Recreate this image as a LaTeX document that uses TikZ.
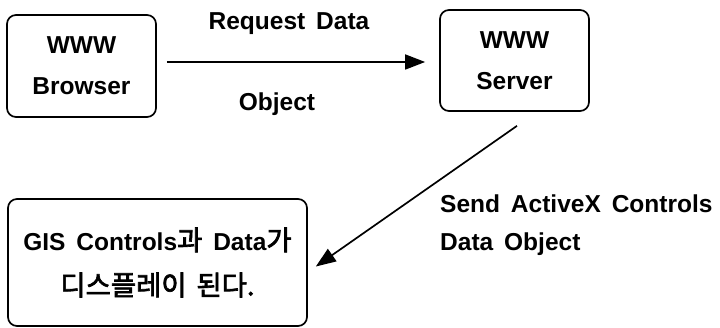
\documentclass[tikz,border=0pt]{standalone}
\usepackage{fontspec}
\setmainfont{Liberation Sans}[WordSpace=1.6]
\newfontfamily\kr{Noto Sans CJK KR}[AutoFakeBold=2.5,WordSpace=1.6,Scale=1.12]
\usetikzlibrary{arrows.meta}
\begin{document}
\begin{tikzpicture}[x=1pt,y=-1pt,
  box/.style={draw,line width=1.7pt,rounded corners=9pt,inner sep=0pt,align=center,font=\fontsize{24.5}{41}\selectfont\bfseries},
  lbl/.style={font=\fontsize{24.5}{26}\selectfont\bfseries,inner sep=0pt},
  conn/.style={line width=1.7pt,-{Triangle[length=20pt,width=15pt]}}]
\useasboundingbox (0,0) rectangle (720,328);
\node[box,minimum width=149pt,minimum height=102pt] (browser) at (81.5,66) {WWW\\Browser};
\node[box,minimum width=149pt,minimum height=101pt] (server) at (514.5,60.5) {WWW\\Server};
\node[box,minimum width=299pt,minimum height=127pt,font=\fontsize{24.5}{45}\selectfont\bfseries] (gis) at (157.5,262.5) {GIS Controls{\kr 과} Data{\kr 가}\\{\kr\bfseries 디스플레이 된다.}};
\draw[conn] ([xshift=10pt,yshift=4pt]browser.east) -- ([xshift=-14pt,yshift=-1.5pt]server.west);
\draw[conn] ([shift={(2.5pt,-14pt)}]server.south) -- ([shift={(8pt,-4pt)}]gis.east);
\node[lbl] (req) at (289,24) {Request Data};
\node[lbl] (obj) at (277,104) {Object};
\node[lbl,anchor=west] (send) at (440,204) {Send ActiveX Controls};
\node[lbl,anchor=west] (dobj) at (440,244) {Data Object};
\end{tikzpicture}
\end{document}
